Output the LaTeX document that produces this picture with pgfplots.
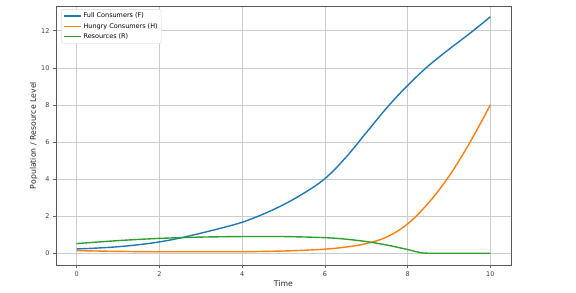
\documentclass[border=0pt]{standalone}
\usepackage{pgfplots}
\pgfplotsset{compat=1.18}
\usepackage{fontspec}
\setmainfont{DejaVu Sans}
\definecolor{tblue}{HTML}{1F77B4}
\definecolor{torange}{HTML}{FF7F0E}
\definecolor{tgreen}{HTML}{2CA02C}
\begin{document}
\begin{tikzpicture}
\begin{axis}[
  scale only axis, width=455bp, height=259bp,
  xmin=-0.5, xmax=10.5, ymin=-0.635, ymax=13.335,
  xtick={0,2,4,6,8,10}, ytick={0,2,4,6,8,10,12},
  tick align=outside, tick pos=left,
  major tick length=3bp,
  tick style={gray!80!black, line width=0.5pt},
  axis line style={gray!70!black, line width=0.6pt},
  grid=major, grid style={gray!40, line width=0.6pt},
  ticklabel style={font=\fontsize{6.5}{7}\selectfont, text=black!75},
  /pgf/number format/assume math mode=true,
  xlabel={Time}, ylabel={Population / Resource Level},
  label style={font=\fontsize{7.8}{9}\selectfont, text=black!85},
  xlabel style={yshift=3bp},
  ylabel style={yshift=-3bp},
  legend style={at={(0.012,0.988)}, anchor=north west, font=\fontsize{6.5}{7.5}\selectfont,
    draw=gray!30, rounded corners=1.5pt, inner sep=1.5pt},
  legend cell align=left,
  legend image code/.code={\draw[#1, sharp plot, line width=1.4pt] (0cm,0cm) -- (0.6cm,0cm);},
]
\addplot[tblue, line width=1.4pt, smooth, tension=0.6] coordinates {(0,0.23) (0.5,0.28) (1,0.35) (1.5,0.46) (2,0.61) (2.5,0.82) (3,1.08) (3.5,1.36) (4,1.67) (4.5,2.1) (5,2.62) (5.5,3.25) (6,4.02) (6.5,5.15) (7,6.5) (7.5,7.85) (8,9.05) (8.5,10.1) (9,11.0) (9.5,11.85) (10,12.75)};
\addlegendentry{Full Consumers (F)}
\addplot[torange, line width=1.4pt, smooth, tension=0.6] coordinates {(0,0.14) (1,0.1) (2,0.08) (3,0.08) (4,0.08) (5,0.12) (5.5,0.16) (6,0.22) (6.5,0.33) (7,0.52) (7.5,0.88) (8,1.58) (8.5,2.7) (9,4.15) (9.5,5.95) (10,8.0)};
\addlegendentry{Hungry Consumers (H)}
\addplot[tgreen, line width=1.4pt, smooth, tension=0.5] coordinates {(0,0.52) (1,0.68) (2,0.8) (3,0.87) (4,0.9) (5,0.9) (6,0.84) (6.5,0.76) (7,0.63) (7.5,0.44) (8,0.2) (8.35,0.02) (8.7,0.0) (10,0.0)};
\addlegendentry{Resources (R)}
\end{axis}
\path[use as bounding box] ([xshift=-56bp,yshift=-28bp]current axis.south west) rectangle ([xshift=65bp,yshift=6bp]current axis.north east);
\end{tikzpicture}
\end{document}
